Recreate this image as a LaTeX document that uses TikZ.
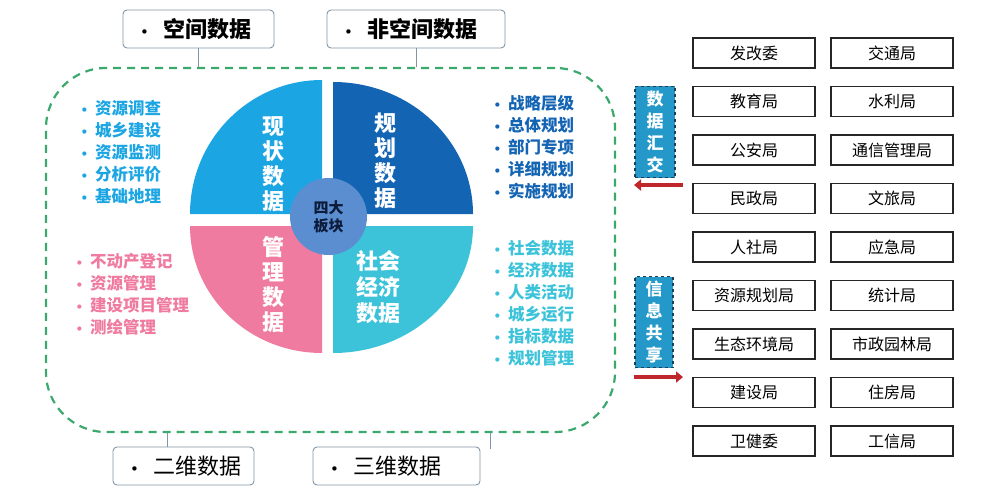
\documentclass[tikz,border=0pt]{standalone}
\usepackage{fontspec}
\setmainfont{Noto Sans CJK SC}
\newfontfamily\symf{DejaVu Sans}
\usetikzlibrary{positioning,arrows.meta}
\definecolor{xzblue}{HTML}{1CA5E3}
\definecolor{ghblue}{HTML}{1464B4}
\definecolor{glpink}{HTML}{F07BA0}
\definecolor{shcyan}{HTML}{3CC3DA}
\definecolor{hubblue}{HTML}{5A8ED0}
\definecolor{hubtext}{HTML}{0D1B3A}
\definecolor{framegreen}{HTML}{3BA86C}
\definecolor{lblgray}{HTML}{8096A8}
\definecolor{vboxfill}{HTML}{2499C9}
\definecolor{vboxline}{HTML}{1F3F55}
\definecolor{arrred}{HTML}{C0272D}
\newcommand{\bul}{{\symf\fontsize{12}{12}\selectfont •}\hspace{7pt}}
\newcommand{\lbul}{\hspace*{17pt}{\symf\fontsize{15}{15}\selectfont •}\hspace{15pt}}
\begin{document}
\begin{tikzpicture}[x=1pt, y=-1pt,
  lbl/.style={draw=lblgray, rounded corners=4pt, line width=0.9pt, minimum height=38pt,
    inner xsep=0pt, text width=#1, align=left, font=\fontsize{22}{26}\selectfont},
  conn/.style={draw=lblgray, line width=0.8pt},
  frame/.style={draw=framegreen, line width=2.2pt, dash pattern=on 8pt off 6pt,
    rounded corners=60pt, minimum width=569pt, minimum height=364pt, inner sep=0pt},
  qtxt/.style={text=white, align=center, font=\bfseries\fontsize{22}{25}\selectfont},
  lst/.style={anchor=west, align=left, font=\bfseries\fontsize{16.5}{22}\selectfont},
  ju/.style={draw=black!85, line width=1.1pt, minimum width=122pt, minimum height=30pt,
    inner sep=0pt, outer sep=0pt, font=\fontsize{16}{18}\selectfont},
  vbox/.style={fill=vboxfill, draw=vboxline, dashed, line width=1.1pt, text=white,
    minimum width=40pt, minimum height=91pt, align=center,
    font=\bfseries\fontsize{17}{22}\selectfont},
  harr/.style={draw=arrred, line width=4.5pt, -{Triangle[length=7pt,width=11pt]}}
  ]
  \useasboundingbox (0,0) rectangle (1000,500);
  \node[frame] (frame) at (330.5,250) {};
  \node[lbl=151pt] (kjsj) at (198.5,29) {\lbul\textbf{空间数据}};
  \node[lbl=178pt] (fkjsj) at (416,29) {\lbul\textbf{非空间数据}};
  \node[lbl=141pt] (ewsj) at (183.5,466) {\lbul 二维数据};
  \node[lbl=167pt] (swsj) at (396.5,466) {\lbul 三维数据};
  \draw[conn] (kjsj.south) -- (kjsj.south |- frame.north);
  \draw[conn] (fkjsj.south) -- (fkjsj.south |- frame.north);
  \coordinate (ewtop) at ([xshift=-16.5pt]ewsj.north);
  \draw[conn] (ewtop) -- (ewtop |- frame.south);
  \coordinate (swend) at (490,449);
  \draw[conn] (swend |- frame.south) -- (swend);

  \fill[xzblue] (322,214) -- ++(180:132pt)
    arc[start angle=180, end angle=90, x radius=132pt, y radius=134pt] -- cycle;
  \fill[ghblue] (333,214) -- ++(90:132pt)
    arc[start angle=90, end angle=0, x radius=140pt, y radius=132pt] -- cycle;
  \fill[glpink] (322,226) -- ++(180:132pt)
    arc[start angle=180, end angle=270, x radius=132pt, y radius=127pt] -- cycle;
  \fill[shcyan] (333,226) -- ++(270:127pt)
    arc[start angle=270, end angle=360, x radius=140pt, y radius=127pt] -- cycle;
  \node[qtxt] (xzsj) at (273,164) {现\\状\\数\\据};
  \node[qtxt] (ghsj) at (385,161) {规\\划\\数\\据};
  \node[qtxt] (glsj) at (273,285) {管\\理\\数\\据};
  \node[qtxt, font=\bfseries\fontsize{22}{26}\selectfont] (shsj) at (378,287) {社会\\经济\\数据};
  \node[circle, fill=hubblue, minimum size=77pt, inner sep=0pt, align=center,
    text=hubtext, font=\bfseries\fontsize{15}{18}\selectfont] (sdbk) at (328.5,216.5) {四大\\板块};

  \node[lst, text=xzblue] (xzlist) at (77,152)
    {\bul 资源调查\\\bul 城乡建设\\\bul 资源监测\\\bul 分析评价\\\bul 基础地理};
  \node[lst, text=glpink] (gllist) at (72,294)
    {\bul 不动产登记\\\bul 资源管理\\\bul 建设项目管理\\\bul 测绘管理};
  \node[lst, text=ghblue] (ghlist) at (490,147)
    {\bul 战略层级\\\bul 总体规划\\\bul 部门专项\\\bul 详细规划\\\bul 实施规划};
  \node[lst, text=shcyan] (shlist) at (490,303)
    {\bul 社会数据\\\bul 经济数据\\\bul 人类活动\\\bul 城乡运行\\\bul 指标数据\\\bul 规划管理};

  \node[ju] (fgw) at (754,53) {发改委};
  \node[ju, below=18.5pt of fgw] (jyj) {教育局};
  \node[ju, below=18.5pt of jyj] (gaj) {公安局};
  \node[ju, below=18.5pt of gaj] (mzj) {民政局};
  \node[ju, below=18.5pt of mzj] (rsj) {人社局};
  \node[ju, below=18.5pt of rsj] (zygh) {资源规划局};
  \node[ju, below=18.5pt of zygh] (sthj) {生态环境局};
  \node[ju, below=18.5pt of sthj] (jsj) {建设局};
  \node[ju, below=18.5pt of jsj] (wjw) {卫健委};
  \node[ju, right=16pt of fgw] (jtj) {交通局};
  \node[ju, right=16pt of jyj] (slj) {水利局};
  \node[ju, right=16pt of gaj] (txgl) {通信管理局};
  \node[ju, right=16pt of mzj] (wlj) {文旅局};
  \node[ju, right=16pt of rsj] (yjj) {应急局};
  \node[ju, right=16pt of zygh] (tjj) {统计局};
  \node[ju, right=16pt of sthj] (szyl) {市政园林局};
  \node[ju, right=16pt of jsj] (zfj) {住房局};
  \node[ju, right=16pt of wjw] (gxj) {工信局};

  \node[vbox] (sjhj) at (655,132) {数\\据\\汇\\交};
  \node[vbox, minimum width=38pt] (xxgx) at (654,322) {信\\息\\共\\享};
  \draw[harr] ([xshift=28pt,yshift=-7pt]sjhj.south) -- ([xshift=-21pt,yshift=-7pt]sjhj.south);
  \draw[harr] ([xshift=-20pt,yshift=-9pt]xxgx.south) -- ([xshift=29pt,yshift=-9pt]xxgx.south);
\end{tikzpicture}
\end{document}
